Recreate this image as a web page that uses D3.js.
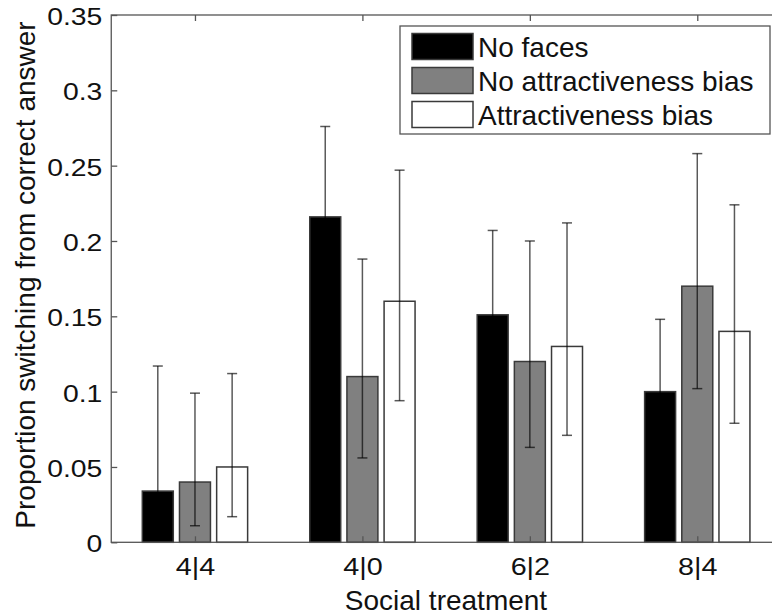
<!DOCTYPE html>
<html>
<head>
<meta charset="utf-8">
<title>Proportion switching</title>
<script src="https://cdn.jsdelivr.net/npm/d3@7"></script>
<style>
  body { margin: 0; background: #fff; }
  svg { display: block; }
  text { font-family: "Liberation Sans", Arial, Helvetica, sans-serif; fill: #111; }
</style>
</head>
<body>
<script>
// data
var categories = ["4|4", "4|0", "6|2", "8|4"];
var seriesNames = ["No faces", "No attractiveness bias", "Attractiveness bias"];

var noFaces    = [0.034, 0.216, 0.151, 0.100];
var noFacesLo  = [0.005, 0.160, 0.100, 0.060];
var noFacesHi  = [0.117, 0.276, 0.207, 0.148];

var noBias     = [0.040, 0.110, 0.120, 0.170];
var noBiasLo   = [0.011, 0.056, 0.063, 0.102];
var noBiasHi   = [0.099, 0.188, 0.200, 0.258];

var bias       = [0.050, 0.160, 0.130, 0.140];
var biasLo     = [0.017, 0.094, 0.071, 0.079];
var biasHi     = [0.112, 0.247, 0.212, 0.224];

var yTicks = [0, 0.05, 0.1, 0.15, 0.2, 0.25, 0.3, 0.35];
var yTickLabels = ["0", "0.05", "0.1", "0.15", "0.2", "0.25", "0.3", "0.35"];

var fills = ["#000000", "#808080", "#ffffff"];
var offsets = [-0.222, 0, 0.222];
var barW = 0.185;

var w = 772, h = 612;
var axL = 111.25, axR = 781, axT = 15, axB = 542.3;

var svg = d3.select("body").append("svg")
    .attr("width", w)
    .attr("height", h);

svg.append("rect").attr("width", w).attr("height", h).attr("fill", "#fff");

var x = d3.scaleLinear().domain([0.5, 4.5]).range([axL, axR]);
var y = d3.scaleLinear().domain([0, 0.35]).range([axB, axT]);

var series = [
  {name: seriesNames[0], v: noFaces, lo: noFacesLo, hi: noFacesHi},
  {name: seriesNames[1], v: noBias, lo: noBiasLo, hi: noBiasHi},
  {name: seriesNames[2], v: bias, lo: biasLo, hi: biasHi}
];

var flat = [];
series.forEach(function(s, k) {
  categories.forEach(function(c, i) {
    flat.push({k: k, i: i, v: s.v[i], lo: s.lo[i], hi: s.hi[i]});
  });
});

// bars
svg.selectAll("rect.bar")
   .data(flat)
   .enter()
   .append("rect")
   .attr("class", "bar")
   .attr("x", function(d) { return x(d.i + 1 + offsets[d.k] - barW / 2); })
   .attr("width", function(d) { return x(barW) - x(0); })
   .attr("y", function(d) { return y(d.v); })
   .attr("height", function(d) { return y(0) - y(d.v); })
   .attr("fill", function(d) { return fills[d.k]; })
   .attr("stroke", "#3a3a3a")
   .attr("stroke-width", 1.5);

// error bars
var eb = svg.selectAll("g.err")
   .data(flat)
   .enter()
   .append("g")
   .attr("class", "err")
   .attr("stroke", "#000")
   .attr("stroke-opacity", 0.65)
   .attr("stroke-width", 1.5);

eb.append("line")
  .attr("x1", function(d) { return x(d.i + 1 + offsets[d.k]); })
  .attr("x2", function(d) { return x(d.i + 1 + offsets[d.k]); })
  .attr("y1", function(d) { return y(d.lo); })
  .attr("y2", function(d) { return y(d.hi); });

["lo", "hi"].forEach(function(key) {
  eb.append("line")
    .attr("x1", function(d) { return x(d.i + 1 + offsets[d.k]) - 5; })
    .attr("x2", function(d) { return x(d.i + 1 + offsets[d.k]) + 5; })
    .attr("y1", function(d) { return y(d[key]); })
    .attr("y2", function(d) { return y(d[key]); });
});

// axes box
var axisColor = "#555";
svg.append("rect")
   .attr("x", axL).attr("y", axT)
   .attr("width", axR - axL).attr("height", axB - axT)
   .attr("fill", "none").attr("stroke", axisColor).attr("stroke-width", 1.3);

// y ticks
var yAxis = d3.axisLeft(y)
    .tickValues(yTicks)
    .tickSizeInner(-6)
    .tickSizeOuter(0)
    .tickFormat(function(d, i) { return yTickLabels[i]; });

var gy = svg.append("g")
    .attr("transform", "translate(" + axL + ",0)")
    .call(yAxis);
gy.select(".domain").remove();
gy.selectAll(".tick line").attr("stroke", axisColor).attr("stroke-width", 1.3);
gy.selectAll(".tick text")
  .attr("x", null).attr("dy", null)
  .attr("y", 9.5)
  .attr("text-anchor", "end")
  .attr("transform", "translate(-9,0) scale(1.18,1)")
  .style("font-size", "24px")
  .style("font-family", "'Liberation Sans', Arial, sans-serif")
  .attr("fill", "#111");

// x ticks (bottom, inward) and mirrored top ticks
var xAxis = d3.axisBottom(x)
    .tickValues([1, 2, 3, 4])
    .tickSizeInner(-6)
    .tickSizeOuter(0)
    .tickFormat(function(d) { return categories[d - 1]; });

var gx = svg.append("g")
    .attr("transform", "translate(0," + axB + ")")
    .call(xAxis);
gx.select(".domain").remove();
gx.selectAll(".tick line").attr("stroke", axisColor).attr("stroke-width", 1.3);
gx.selectAll(".tick text")
  .attr("y", null).attr("dy", null)
  .attr("transform", "translate(0,32.7) scale(1.25,1)")
  .attr("text-anchor", "middle")
  .style("font-size", "23px")
  .style("font-family", "'Liberation Sans', Arial, sans-serif")
  .attr("fill", "#111");

var xTop = d3.axisTop(x)
    .tickValues([1, 2, 3, 4])
    .tickSizeInner(-6)
    .tickSizeOuter(0)
    .tickFormat("");
var gt = svg.append("g")
    .attr("transform", "translate(0," + axT + ")")
    .call(xTop);
gt.select(".domain").remove();
gt.selectAll(".tick line").attr("stroke", axisColor).attr("stroke-width", 1.3);

// axis titles
svg.append("text")
   .attr("x", 446).attr("y", 610)
   .attr("text-anchor", "middle")
   .style("font-size", "28px")
   .text("Social treatment");

svg.append("text")
   .attr("transform", "translate(35,275) rotate(-90)")
   .attr("text-anchor", "middle")
   .style("font-size", "28px")
   .text("Proportion switching from correct answer");

// legend
var lg = svg.append("g");
lg.append("rect")
  .attr("x", 400).attr("y", 26)
  .attr("width", 370).attr("height", 108)
  .attr("fill", "#fff")
  .attr("stroke", axisColor)
  .attr("stroke-width", 1.3);

var rows = lg.selectAll("g.row")
  .data(series)
  .enter()
  .append("g")
  .attr("class", "row")
  .attr("transform", function(d, k) { return "translate(0," + (46.5 + k * 34) + ")"; });

rows.append("rect")
  .attr("x", 412).attr("y", -13)
  .attr("width", 61).attr("height", 26)
  .attr("fill", function(d, k) { return fills[k]; })
  .attr("stroke", "#3a3a3a")
  .attr("stroke-width", 1.5);

rows.append("text")
  .attr("x", 478).attr("y", 10)
  .style("font-size", "28px")
  .text(function(d) { return d.name; });
</script>
</body>
</html>
